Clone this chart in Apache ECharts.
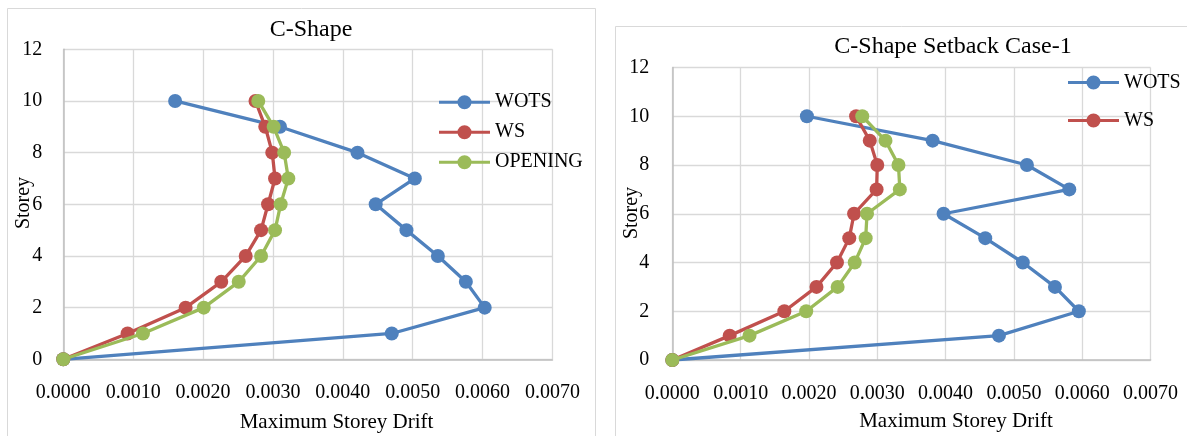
<!DOCTYPE html>
<html>
<head>
<meta charset="utf-8">
<script src="https://cdn.jsdelivr.net/npm/echarts@6/dist/echarts.min.js"></script>
<style>
  html, body { margin: 0; padding: 0; background: #fff; }
  #chart { width: 1187px; height: 436px; }
</style>
</head>
<body>
<div id="chart"></div>
<script>
// Storey levels (ground = 0 up to roof = 10)
const storeys = [0, 1, 2, 3, 4, 5, 6, 7, 8, 9, 10];

// C-Shape: maximum storey drift per storey
const cShapeWots    = [0, 0.00470, 0.00603, 0.00576, 0.00536, 0.00491, 0.00447, 0.00503, 0.00421, 0.00310, 0.00160];
const cShapeWs      = [0, 0.00092, 0.00175, 0.00226, 0.00261, 0.00283, 0.00293, 0.00303, 0.00299, 0.00289, 0.00275];
const cShapeOpening = [0, 0.00114, 0.00201, 0.00251, 0.00283, 0.00303, 0.00311, 0.00322, 0.00316, 0.00301, 0.00279];

// C-Shape Setback Case-1: maximum storey drift per storey
const setbackWots    = [0, 0.00478, 0.00595, 0.00560, 0.00513, 0.00458, 0.00397, 0.00581, 0.00519, 0.00381, 0.00197];
const setbackWs      = [0, 0.00084, 0.00164, 0.00211, 0.00241, 0.00259, 0.00266, 0.00299, 0.00300, 0.00289, 0.00269];
const setbackOpening = [0, 0.00113, 0.00196, 0.00242, 0.00267, 0.00283, 0.00285, 0.00333, 0.00331, 0.00312, 0.00278];

// Axis ranges
const driftMin = 0, driftMax = 0.007, driftStep = 0.001;
const storeyMin = 0, storeyMax = 12, storeyStep = 2;

const seriesNames = ['WOTS', 'WS', 'OPENING'];
const colors = ['#4F81BD', '#C0504D', '#9BBB59'];
const FONT = 'Liberation Serif';

// legend key: thick line with a round marker in the middle (51 x 14 box)
const legendIcon = 'path://M0,5.5H51V8.5H0Z M18.5,7A7,7 0 1,1 32.5,7A7,7 0 1,1 18.5,7Z';

const chart = echarts.init(document.getElementById('chart'), null, { renderer: 'canvas' });

function pairs(values) {
  return values.map((v, i) => [v, storeys[i]]);
}

function lineSeries(name, values, idx, colorIdx) {
  return {
    name: name,
    type: 'line',
    xAxisIndex: idx,
    yAxisIndex: idx,
    data: pairs(values),
    symbol: 'circle',
    symbolSize: 14,
    showSymbol: true,
    lineStyle: { width: 3.3, color: colors[colorIdx] },
    itemStyle: { color: colors[colorIdx] },
    emphasis: { disabled: true },
    animation: false,
    z: 2 + colorIdx
  };
}

function xAxis(gridIndex) {
  return {
    type: 'value', gridIndex: gridIndex,
    min: driftMin, max: driftMax, interval: driftStep,
    axisLine: { show: true, onZero: false, lineStyle: { color: '#BFBFBF', width: 1.5 } },
    axisTick: { show: false },
    splitLine: { show: true, lineStyle: { color: '#D9D9D9', width: 1.3 } },
    axisLabel: {
      margin: 23.5, color: '#000', fontFamily: FONT, fontSize: 20,
      formatter: v => v.toFixed(4)
    }
  };
}

function yAxis(gridIndex, margin) {
  return {
    type: 'value', gridIndex: gridIndex,
    min: storeyMin, max: storeyMax, interval: storeyStep,
    axisLine: { show: true, onZero: false, lineStyle: { color: '#BFBFBF', width: 1.5 } },
    axisTick: { show: false },
    splitLine: { show: true, lineStyle: { color: '#D9D9D9', width: 1.3 } },
    axisLabel: { margin: margin, color: '#000', fontFamily: FONT, fontSize: 20 }
  };
}

function legend(names, left, top, gap) {
  return {
    data: names.map(n => ({ name: n, icon: legendIcon })),
    orient: 'vertical', left: left, top: top, padding: 0,
    itemWidth: 51, itemHeight: 14, itemGap: gap,
    selectedMode: false,
    textStyle: { color: '#000', fontFamily: FONT, fontSize: 20, lineHeight: 20, padding: [0, 0, 0, 0] }
  };
}

function text(str, x, y, size, rotate) {
  return {
    type: 'text', x: x, y: y, rotation: rotate ? Math.PI / 2 : 0,
    silent: true,
    style: {
      text: str, fill: '#000', font: size + 'px "' + FONT + '"',
      textAlign: 'center', textVerticalAlign: 'middle'
    }
  };
}

const option = {
  backgroundColor: '#fff',
  animation: false,
  grid: [
    { left: 63.3, top: 49.3, width: 489.2, height: 310, containLabel: false },
    { left: 672.3, top: 67.5, width: 478.3, height: 292.5, containLabel: false }
  ],
  xAxis: [xAxis(0), xAxis(1)],
  yAxis: [yAxis(0, 21), yAxis(1, 23)],
  legend: [
    legend(seriesNames, 439, 92.2, 10),
    legend(['WOTS', 'WS'], 1068, 72.5, 18)
  ],
  graphic: [
    // chart frames
    { type: 'rect', silent: true, shape: { x: 7.5, y: 8.5, width: 588, height: 440 },
      style: { fill: 'none', stroke: '#D9D9D9', lineWidth: 1 } },
    { type: 'rect', silent: true, shape: { x: 615.5, y: 26.5, width: 600, height: 440 },
      style: { fill: 'none', stroke: '#D9D9D9', lineWidth: 1 } },
    // titles
    text('C-Shape', 311, 30, 24),
    text('C-Shape Setback Case-1', 953, 46.5, 24),
    // axis names
    text('Maximum Storey Drift', 336.5, 422, 21),
    text('Maximum Storey Drift', 956, 421, 21),
    text('Storey', 24, 203, 20, true),
    text('Storey', 631.5, 213, 20, true)
  ],
  series: [
    lineSeries('WOTS', cShapeWots, 0, 0),
    lineSeries('WS', cShapeWs, 0, 1),
    lineSeries('OPENING', cShapeOpening, 0, 2),
    lineSeries('WOTS', setbackWots, 1, 0),
    lineSeries('WS', setbackWs, 1, 1),
    lineSeries('OPENING', setbackOpening, 1, 2)
  ]
};

chart.setOption(option);
</script>
</body>
</html>
